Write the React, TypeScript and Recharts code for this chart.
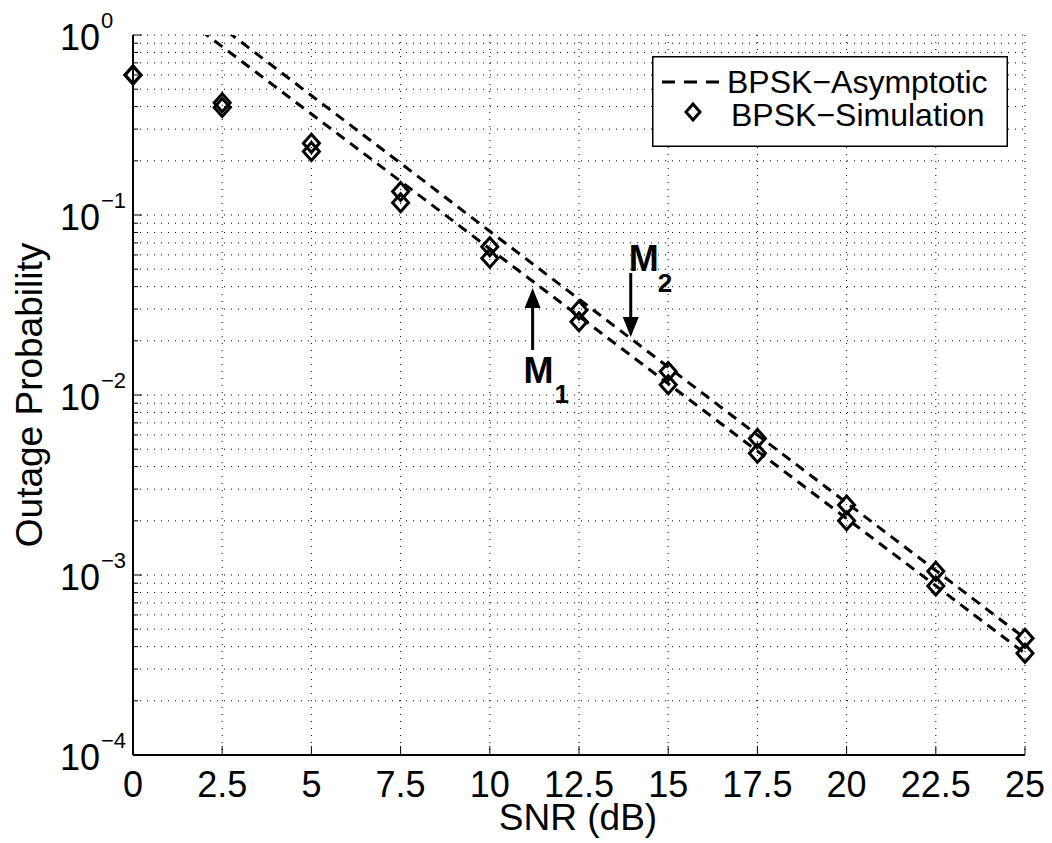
import React from 'react';
import { ComposedChart, Line, XAxis, YAxis, CartesianGrid, Legend, ReferenceLine } from 'recharts';

const snrDb = [0, 2.5, 5, 7.5, 10, 12.5, 15, 17.5, 20, 22.5, 25];
const asymptoticM1 = [2.04, 0.862, 0.364, 0.154, 0.0649, 0.0274, 0.01156, 0.00488, 0.00206, 0.000871, 0.000367];
const asymptoticM2 = [2.62, 1.1, 0.461, 0.194, 0.0812, 0.0341, 0.0143, 0.006, 0.00252, 0.00106, 0.000445];
const simulationM1 = [0.6, 0.395, 0.225, 0.117, 0.0575, 0.0255, 0.0114, 0.00474, 0.002, 0.00087, 0.000367];
const simulationM2 = [0.6, 0.42, 0.25, 0.135, 0.0667, 0.0297, 0.0135, 0.00574, 0.00245, 0.00105, 0.000445];

const xTicks = [0, 2.5, 5, 7.5, 10, 12.5, 15, 17.5, 20, 22.5, 25];
const xTickLabels = ['0', '2.5', '5', '7.5', '10', '12.5', '15', '17.5', '20', '22.5', '25'];
const yMajorTicks = [1e-4, 1e-3, 1e-2, 1e-1, 1];
const yMajorExponents = ['\u22124', '\u22123', '\u22122', '\u22121', '0'];
const minorMultipliers = [2, 3, 4, 5, 6, 7, 8, 9];
const yMinorTicks = yMajorTicks.slice(0, 4).flatMap((d) => minorMultipliers.map((m) => m * d));
const yAllTicks = [...yMajorTicks, ...yMinorTicks].sort((a, b) => a - b);

const arrowM1 = { x: 11.2, from: 0.0178, to: 0.0393 };
const arrowM2 = { x: 13.95, from: 0.0476, to: 0.021 };

const legendLabels = ['BPSK\u2212Asymptotic', 'BPSK\u2212Simulation'];

const FONT = '"Liberation Sans", Arial, Helvetica, sans-serif';

const data = snrDb.map((x, i) => ({
  snr: x,
  asymA: asymptoticM1[i],
  asymB: asymptoticM2[i],
  simA: simulationM1[i],
  simB: simulationM2[i],
}));

const diamondPath = (cx: number, cy: number, w = 8, h = 9) =>
  `M${cx},${cy - h} L${cx + w},${cy} L${cx},${cy + h} L${cx - w},${cy} Z`;

const renderDiamond = (props: any) => {
  const { cx, cy, index } = props;
  if (cx == null || cy == null) return <g key={`d-${index}`} />;
  return (
    <path
      key={`d-${index}-${cx}-${cy}`}
      d={diamondPath(cx, cy)}
      fill="none"
      stroke="#000"
      strokeWidth={3}
      strokeLinejoin="miter"
    />
  );
};

const isMajor = (v: number) => yMajorTicks.some((t) => Math.abs(t - v) / t < 1e-9);

const BottomTick = (props: any) => {
  const { x, y, payload } = props;
  const idx = xTicks.indexOf(payload.value);
  return (
    <g>
      <line x1={x} y1={y} x2={x} y2={y - 9} stroke="#000" strokeWidth={1} />
      <text x={x} y={y + 42} textAnchor="middle" fontFamily={FONT} fontSize={36} fill="#000">
        {xTickLabels[idx]}
      </text>
    </g>
  );
};

const TopTick = (props: any) => {
  const { x, y } = props;
  return <line x1={x} y1={y} x2={x} y2={y + 9} stroke="#000" strokeWidth={1} />;
};

const LeftTick = (props: any) => {
  const { x, y, payload } = props;
  const major = isMajor(payload.value);
  const idx = yMajorTicks.findIndex((t) => Math.abs(t - payload.value) / t < 1e-9);
  return (
    <g>
      <line x1={x} y1={y} x2={x + (major ? 9 : 5)} y2={y} stroke="#000" strokeWidth={1} />
      {major && (
        <>
          <text x={x - 33} y={y + 15} textAnchor="end" fontFamily={FONT} fontSize={36} fill="#000">
            10
          </text>
          <text x={x - 32} y={y - 7} textAnchor="start" fontFamily={FONT} fontSize={22} fill="#000">
            {yMajorExponents[idx]}
          </text>
        </>
      )}
    </g>
  );
};

const RightTick = (props: any) => {
  const { x, y, payload } = props;
  const major = isMajor(payload.value);
  return <line x1={x} y1={y} x2={x - (major ? 9 : 5)} y2={y} stroke="#000" strokeWidth={1} />;
};

const makeArrow =
  (sub: string, mdx: number, mdy: number, sdx: number, sdy: number) => (p: any) => {
    const { x1, y1, x2, y2 } = p;
    if ([x1, y1, x2, y2].some((v) => v == null || Number.isNaN(v))) return <g />;
    const dir = Math.sign(y2 - y1);
    const headLen = 20;
    const headW = 8;
    const baseY = y2 - dir * headLen;
    return (
      <g>
        <line x1={x1} y1={y1} x2={x2} y2={baseY} stroke="#000" strokeWidth={3} />
        <polygon points={`${x2},${y2} ${x2 - headW},${baseY} ${x2 + headW},${baseY}`} fill="#000" />
        <text x={x1 + mdx} y={y1 + mdy} fontFamily={FONT} fontWeight="bold" fontSize={36} fill="#000">
          M
        </text>
        <text x={x1 + sdx} y={y1 + sdy} fontFamily={FONT} fontWeight="bold" fontSize={26} fill="#000">
          {sub}
        </text>
      </g>
    );
  };

const LegendBox = () => (
  <svg width={356} height={91} style={{ display: 'block' }}>
    <rect x={0.75} y={0.75} width={354.5} height={89.5} fill="#fff" stroke="#000" strokeWidth={1.5} />
    <line x1={10} y1={26} x2={68} y2={26} stroke="#000" strokeWidth={3} strokeDasharray="13 9" />
    <text x={75} y={37} fontFamily={FONT} fontSize={32} fill="#000">
      {legendLabels[0]}
    </text>
    <path d={diamondPath(41, 56, 7, 8)} fill="none" stroke="#000" strokeWidth={3} />
    <text x={79} y={70} fontFamily={FONT} fontSize={32} fill="#000">
      {legendLabels[1]}
    </text>
  </svg>
);

export default function App() {
  return (
    <div style={{ width: 1044, height: 835, fontFamily: FONT }}>
      <ComposedChart
        width={1044}
        height={835}
        data={data}
        margin={{ top: 27, right: 27, bottom: 0, left: 0 }}
      >
        <CartesianGrid stroke="#000" strokeWidth={1} strokeDasharray="1 6" />
        <XAxis
          dataKey="snr"
          type="number"
          domain={[0, 25]}
          ticks={xTicks}
          interval={0}
          height={88}
          tickSize={0}
          tickMargin={0}
          tick={<BottomTick />}
          axisLine={{ stroke: '#000', strokeWidth: 2 }}
          tickLine={false}
          label={(props: any) => {
            const vb = props.viewBox;
            return (
              <text
                x={vb.x + vb.width / 2 - 1}
                y={vb.y + 75}
                textAnchor="middle"
                fontFamily={FONT}
                fontSize={37}
                fill="#000"
              >
                SNR (dB)
              </text>
            );
          }}
        />
        <XAxis
          xAxisId="top"
          orientation="top"
          dataKey="snr"
          type="number"
          domain={[0, 25]}
          ticks={xTicks}
          interval={0}
          height={0}
          tickSize={0}
          tickMargin={0}
          tick={<TopTick />}
          axisLine={{ stroke: '#000', strokeWidth: 2 }}
          tickLine={false}
        />
        <YAxis
          type="number"
          scale="log"
          domain={[1e-4, 1]}
          allowDataOverflow
          ticks={yAllTicks}
          interval={0}
          width={125}
          tickSize={0}
          tickMargin={0}
          tick={<LeftTick />}
          axisLine={{ stroke: '#000', strokeWidth: 2 }}
          tickLine={false}
          label={(props: any) => {
            const vb = props.viewBox;
            const cx = 34;
            const cy = vb.y + vb.height / 2;
            return (
              <text
                x={cx}
                y={cy}
                transform={`rotate(-90 ${cx} ${cy})`}
                textAnchor="middle"
                fontFamily={FONT}
                fontSize={37}
                fill="#000"
              >
                Outage Probability
              </text>
            );
          }}
        />
        <YAxis
          yAxisId="right"
          orientation="right"
          type="number"
          scale="log"
          domain={[1e-4, 1]}
          allowDataOverflow
          ticks={yAllTicks}
          interval={0}
          width={0}
          tickSize={0}
          tickMargin={0}
          tick={<RightTick />}
          axisLine={{ stroke: '#000', strokeWidth: 2 }}
          tickLine={false}
        />
        <Line
          dataKey="asymA"
          type="linear"
          stroke="#000"
          strokeWidth={3}
          strokeDasharray="10 7"
          dot={false}
          activeDot={false}
          isAnimationActive={false}
          legendType="none"
        />
        <Line
          dataKey="asymB"
          type="linear"
          stroke="#000"
          strokeWidth={3}
          strokeDasharray="10 7"
          dot={false}
          activeDot={false}
          isAnimationActive={false}
          legendType="none"
        />
        <Line
          dataKey="simA"
          stroke="none"
          dot={renderDiamond}
          activeDot={false}
          isAnimationActive={false}
          legendType="none"
        />
        <Line
          dataKey="simB"
          stroke="none"
          dot={renderDiamond}
          activeDot={false}
          isAnimationActive={false}
          legendType="none"
        />
        <ReferenceLine
          segment={[
            { x: arrowM1.x, y: arrowM1.from },
            { x: arrowM1.x, y: arrowM1.to },
          ]}
          shape={makeArrow('1', -9, 33, 22, 53)}
        />
        <ReferenceLine
          segment={[
            { x: arrowM2.x, y: arrowM2.from },
            { x: arrowM2.x, y: arrowM2.to },
          ]}
          shape={makeArrow('2', -2, -2, 27, 19)}
        />
        <Legend
          layout="vertical"
          align="center"
          verticalAlign="middle"
          wrapperStyle={{ position: 'absolute', left: 644, top: 48, width: 356, height: 91 }}
          content={() => <LegendBox />}
        />
      </ComposedChart>
    </div>
  );
}
